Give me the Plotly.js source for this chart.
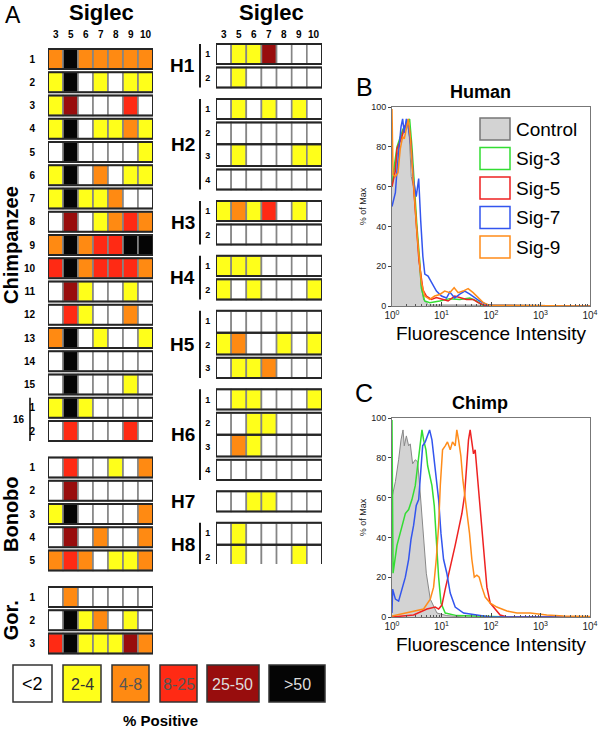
<!DOCTYPE html>
<html><head><meta charset="utf-8">
<script src="https://cdn.plot.ly/plotly-3.0.1.min.js"></script>
<style>html,body{margin:0;padding:0;background:#fff}#plot{width:600px;height:730px}</style>
</head><body><div id="plot"></div>
<script>
// ---------- DATA ----------
const siglecs = ['3','5','6','7','8','9','10'];
const levelLabels = ['<2','2-4','4-8','8-25','25-50','>50'];
// level codes: 0 <2, 1 2-4, 2 4-8, 3 8-25, 4 25-50, 5 >50
const chimpLabels = ['1','2','3','4','5','6','7','8','9','10','11','12','13','14','15','1','2'];
const chimpValues = [
 [2,5,2,2,2,2,2],[1,5,0,1,0,1,1],[1,4,0,0,0,3,0],[1,5,0,1,1,2,1],[0,5,0,0,0,0,1],
 [1,5,0,2,0,1,1],[1,5,1,1,2,0,0],[0,4,0,1,2,3,2],[2,5,2,3,3,5,5],[3,5,2,3,3,3,2],
 [0,4,1,0,0,1,0],[0,3,1,0,0,2,0],[2,5,0,1,0,0,1],[0,5,0,0,0,0,0],[0,5,0,0,0,1,0],
 [1,5,1,0,0,0,0],[0,3,0,0,0,3,0]];
const bonoboLabels = ['1','2','3','4','5'];
const bonoboValues = [[0,3,0,0,1,0,2],[0,4,0,0,0,0,0],[1,5,0,0,0,0,2],[0,4,0,2,0,0,2],[2,3,2,0,1,1,2]];
const gorLabels = ['1','2','3'];
const gorValues = [[0,2,0,0,0,0,0],[0,5,1,2,0,1,0],[3,5,1,1,1,4,2]];
const speciesNames = ['Chimpanzee','Bonobo','Gor.'];
const humanGroups = ['H1','H2','H3','H4','H5','H6','H7','H8'];
const humanSubLabels = [['1','2'],['1','2','3','4'],['1','2'],['1','2'],['1','2','3'],['1','2','3','4'],[''],['1','2']];
const humanValues = [
 [0,1,1,4,0,0,0],[0,1,0,0,0,0,0],
 [0,1,0,1,0,1,0],[0,0,0,0,0,0,0],[0,1,0,0,0,1,1],[0,0,0,0,0,0,0],
 [1,2,1,3,0,1,0],[0,0,0,0,0,0,0],
 [1,1,1,0,0,0,0],[1,0,1,0,0,0,1],
 [0,0,0,0,0,0,0],[1,2,0,0,1,0,1],[0,1,1,2,0,0,0],
 [0,1,1,0,0,0,1],[0,0,1,1,0,0,0],[0,2,1,0,0,0,0],[0,0,0,0,0,0,0],
 [0,0,1,1,0,0,0],
 [0,1,0,0,0,0,0],[0,1,0,0,0,1,0]];

const seriesNames = ['Control','Sig-3','Sig-5','Sig-7','Sig-9'];
// Panel B (Human)
const bControlX = [1.0,1.08,1.26,1.47,1.72,2.01,2.24,2.45,2.73,3.09,3.46,3.84,4.35,5.49,20,100,10000];
const bControlY = [60,67,75,85,87,94,85,65,60,43,25,11,3,0.5,0.5,0.3,0];
const bSig3X = [1.0,1.08,1.26,1.47,1.67,1.86,2.07,2.27,2.53,2.82,3.19,3.62,3.92,4.58,5.78,9.22,14.7,23.4,37.3,50.9,69.5,10000];
const bSig3Y = [60,68,80,85,89,90,92,94,80,60,40,23,9,2.5,1.7,2.5,3.7,3.3,4,2.5,0.3,0];
const bSig5X = [1.0,1.17,1.26,1.43,1.59,1.77,2.01,2.20,2.42,2.73,3.09,3.50,4.24,4.95,6.25,7.89,10.8,13.6,18.5,23.4,31.9,43.6,55.0,75.0,10000];
const bSig5Y = [60,68,79,82,85,90,92,90,82,60,40,23,8,5,3.3,4.2,3.3,2.5,5,4.2,3.3,3.3,1.7,0.3,0];
const bSig7X = [1.0,1.17,1.26,1.36,1.52,1.64,1.77,1.95,2.17,2.42,2.73,3.09,3.46,3.8,4.2,4.6,5.35,6.25,7.9,10,12.6,14.7,18.5,23.4,29.5,37.3,47,59,81,111,10000];
const bSig7Y = [50,57,68,77,90,94,87,94,89,80,63,55,64,43,25,16,15,12,7.5,5,4,7,4,6,7.5,6,4,2.5,0.8,0.3,0];
const bSig9X = [1.0,1.05,1.17,1.32,1.47,1.64,1.77,1.95,2.14,2.34,2.53,2.82,3.19,3.62,3.92,4.58,5.78,7.30,9.22,11.6,14.7,18.0,21.7,27.3,34.5,43.6,55,69.5,94.7,500,10000];
const bSig9Y = [99,66,65,67,79,85,84,90,94,85,72,55,37,21,12,5,3.3,5,5.8,7.5,6.7,9.2,6.7,7.5,8.7,6.7,4.2,1.7,0.3,0.3,0];
// Panel C (Chimp)
const cControlX = [1.0,1.17,1.36,1.52,1.67,1.77,1.95,2.17,2.34,2.61,2.95,3.30,3.62,4.03,4.35,4.93,5.93,8.09,12.8,27.9,10000];
const cControlY = [60,68,79,89,94,86,91,86,87,77,79,78,66,51,42,22,9,2,0.7,0,0];
const cSig3X = [1.0,1.05,1.26,1.47,1.86,2.17,2.53,2.95,3.30,3.62,4.03,4.35,4.85,5.25,5.75,6.41,7.14,7.84,8.75,9.75,11.9,20.4,60.6,284,10000];
const cSig3Y = [99,22,36,42,52,54,59,66,76,86,94,89,84,76,72,66,56,39,20,7,2,0.7,0.3,0,0];
const cSig5X = [1.0,2.73,5.08,7.48,8.75,10.2,11.9,13.9,16.2,18.9,22.1,25.8,29.2,32.5,35.1,37.9,41.0,44.3,47.9,51.8,57.8,65.5,73.0,82.6,96.5,121,153,210,10000];
const cSig5Y = [0,1,4,5,4,6,14,22,29,36,44,52,61,76,89,94,88,82,84,74,59,42,27,15,7,4,1,0,0];
const cSig7X = [1.0,1.03,1.17,1.36,1.59,1.86,2.17,2.42,2.73,3.09,3.46,3.74,4.16,4.70,5.25,5.75,6.41,6.92,7.84,8.75,9.75,11.0,12.8,15.0,18.9,27.9,51.8,96.5,10000];
const cSig7Y = [2,14,9,8,14,20,29,39,46,56,59,72,86,88,92,94,89,82,72,59,42,29,22,12,5,2,1,0,0];
const cSig9X = [1.0,2.73,4.35,5.93,6.92,7.84,8.75,9.45,10.5,11.9,13.2,15.0,16.7,18.9,20.4,22.1,24.6,27.0,30.1,33.6,36.8,41.0,45.9,51.8,57.8,65.5,76.4,96.5,131,210,335,620,1340,2910,10000];
const cSig9Y = [0.5,3,4,9,15,29,46,66,84,86,88,84,88,86,94,89,81,69,59,51,42,29,20,21,20,15,10,7,5,3,2,2,1,0.5,0.3];

// ---------- STYLE / LAYOUT ----------
const FONT = 'Liberation Sans, Arial, Helvetica, sans-serif';
const levelColors = ['#ffffff','#ffff1a','#ff8a12','#ff2a14','#980d0d','#050505'];
const levelTextColors = ['#000000','#333333','#555555','#555555','#dddddd','#dddddd'];
const seriesColors = ['#888888','#33dd33','#ee2222','#3355ee','#ff8c1a'];
const W = 600, H = 730;
const px = v => v / W, py = v => 1 - v / H;

const A = {top: 45, bot: 656, y0: 59, step: 23.25, half: 0.43, gap: 0.57};
const HM = {top: 43, bot: 564, y0: 54, step: 23.5, half: 0.43, gap: 0.34};
const humanJoin = [3, 10, 14, 18]; // row index joined with the next one

const traces = [];
const shapes = [];
const annotations = [];
function ann(o) {
  annotations.push(Object.assign({showarrow: false, xanchor: 'center', yanchor: 'middle', xref: 'paper', yref: 'paper'}, o));
}

function addCells(values, pos, xa, ya, joins) {
  const cx = [], cb = [], ch = [], cc = [];
  const ox = [], ob = [], oh = [];
  values.forEach((row, r) => {
    let top = pos[r] - A.half, bot = pos[r] + A.half;
    if (joins.includes(r)) bot = (pos[r] + pos[r + 1]) / 2;
    if (joins.includes(r - 1)) top = (pos[r - 1] + pos[r]) / 2;
    row.forEach((v, c) => { cx.push(c); cb.push(top); ch.push(bot - top); cc.push(levelColors[v]); });
    ox.push((siglecs.length - 1) / 2); ob.push(top); oh.push(bot - top);
  });
  traces.push({type: 'bar', x: cx, y: ch, base: cb, width: 1, xaxis: xa, yaxis: ya,
    marker: {color: cc, line: {color: '#858585', width: 1.6}}, hoverinfo: 'skip', showlegend: false});
  traces.push({type: 'bar', x: ox, y: oh, base: ob, width: siglecs.length, xaxis: xa, yaxis: ya,
    marker: {color: 'rgba(0,0,0,0)', line: {color: '#262626', width: 2}}, hoverinfo: 'skip', showlegend: false});
  // column headers (Siglec numbers)
  siglecs.forEach((s, c) => ann({text: '<b>' + s + '</b>', x: c, xref: xa, y: py(34), font: {family: FONT, size: 10, color: '#000'}}));
}

// chimp / bonobo / gorilla positions
const apeSets = [[chimpLabels, chimpValues], [bonoboLabels, bonoboValues], [gorLabels, gorValues]];
const apePos = [], apeLabels = [], apeVals = [];
let idx = 0;
apeSets.forEach((s, g) => {
  const start = idx + g * A.gap;
  const ps = s[1].map((_, i) => start + i);
  ps.forEach((p, i) => { apePos.push(p); apeLabels.push(s[0][i]); apeVals.push(s[1][i]); });
  ann({text: '<b>' + speciesNames[g] + '</b>', x: px(11), y: (ps[0] + ps[ps.length - 1]) / 2, yref: 'y',
    textangle: -90, font: {family: FONT, size: 20, color: '#000'}});
  idx += s[1].length;
});
addCells(apeVals, apePos, 'x', 'y', []);
// chimp 16 bracket
const p161 = apePos[15], p162 = apePos[16];
shapes.push({type: 'line', xref: 'paper', yref: 'y', x0: px(30), x1: px(30), y0: p161 - A.half, y1: p162 + A.half, line: {color: '#000', width: 1.5}});
ann({text: '<b>16</b>', x: px(27), y: (p161 + p162) / 2, yref: 'y', xanchor: 'right', font: {family: FONT, size: 10, color: '#000'}});

// human positions
const humPos = [], humLabels = [];
let hi = 0;
humanGroups.forEach((gname, g) => {
  const start = hi + g * HM.gap;
  const ps = humanSubLabels[g].map((_, i) => start + i);
  ps.forEach((p, i) => { humPos.push(p); humLabels.push(humanSubLabels[g][i]); });
  ann({text: '<b>' + gname + '</b>', x: px(197), y: (ps[0] + ps[ps.length - 1]) / 2, yref: 'y2',
    xanchor: 'right', font: {family: FONT, size: 19, color: '#000'}});
  if (ps.length > 1) shapes.push({type: 'line', xref: 'paper', yref: 'y2', x0: px(200), x1: px(200),
    y0: ps[0] - HM.half, y1: ps[ps.length - 1] + HM.half, line: {color: '#000', width: 1.8}});
  hi += ps.length;
});
addCells(humanValues, humPos, 'x2', 'y2', humanJoin);

// Siglec titles & A
ann({text: 'A', x: px(3), y: py(15), xanchor: 'left', font: {family: FONT, size: 23, color: '#000'}});
[[101, 'Siglec'], [271, 'Siglec']].forEach(t => ann({text: '<b>' + t[1] + '</b>', x: px(t[0]), y: py(13),
  font: {family: FONT, size: 22, color: '#000'}}));

// level legend
const legBoxes = [[13, 52], [63, 101], [112, 149], [160, 197], [207, 259], [269, 325]];
levelLabels.forEach((lab, i) => {
  const b = legBoxes[i];
  shapes.push({type: 'rect', xref: 'paper', yref: 'paper', x0: px(b[0]), x1: px(b[1]), y0: py(702), y1: py(665),
    fillcolor: levelColors[i], line: {color: '#333', width: 1.5}});
  ann({text: lab, x: px((b[0] + b[1]) / 2), y: py(684), font: {family: FONT, size: i === 0 ? 18 : 16, color: levelTextColors[i]}});
});
ann({text: '<b>% Positive</b>', x: px(160), y: py(720), font: {family: FONT, size: 15, color: '#000'}});

// histogram traces
const bSets = [[bControlX, bControlY], [bSig3X, bSig3Y], [bSig5X, bSig5Y], [bSig7X, bSig7Y], [bSig9X, bSig9Y]];
const cSets = [[cControlX, cControlY], [cSig3X, cSig3Y], [cSig5X, cSig5Y], [cSig7X, cSig7Y], [cSig9X, cSig9Y]];
[[bSets, 'x3', 'y3'], [cSets, 'x4', 'y4']].forEach(([sets, xa, ya]) => {
  sets.forEach((s, i) => {
    const t = {type: 'scatter', mode: 'lines', x: s[0], y: s[1], xaxis: xa, yaxis: ya, name: seriesNames[i],
      line: {color: seriesColors[i], width: i === 0 ? 1 : 1.5}, showlegend: false, hoverinfo: 'skip'};
    if (i === 0) { t.fill = 'tozeroy'; t.fillcolor = '#d3d3d3'; }
    traces.push(t);
  });
});

// legend for B
seriesNames.forEach((n, i) => {
  const yc = 129 + i * 29.5;
  shapes.push({type: 'rect', xref: 'paper', yref: 'paper', x0: px(480), x1: px(510), y0: py(yc + 11), y1: py(yc - 11),
    fillcolor: i === 0 ? '#d3d3d3' : 'rgba(0,0,0,0)', line: {color: i === 0 ? '#777' : seriesColors[i], width: 1.5}});
  ann({text: n, x: px(514), y: py(yc), xanchor: 'left', font: {family: FONT, size: 19, color: '#000'}});
});
[['B', 364, 87], ['C', 364, 393]].forEach(t => ann({text: t[0], x: px(t[1]), y: py(t[2]),
  font: {family: FONT, size: 25, color: '#000'}}));
[['Human', 480, 92], ['Chimp', 480, 403]].forEach(t => ann({text: '<b>' + t[0] + '</b>', x: px(t[1]), y: py(t[2]),
  font: {family: FONT, size: 18, color: '#000'}}));

function heatX(domain, yname) {
  return {domain: domain, anchor: yname, range: [-0.5, siglecs.length - 0.5], showticklabels: false, ticks: '',
    showgrid: false, zeroline: false, showline: false, fixedrange: true};
}
function heatY(G, domainTop, domainBot, vals, labels, xname, ticklen, fsize) {
  return {domain: [py(domainBot), py(domainTop)], anchor: xname,
    range: [(domainBot - G.y0) / G.step, (domainTop - G.y0) / G.step], tickvals: vals, ticktext: labels,
    ticks: 'outside', ticklen: ticklen, tickcolor: 'rgba(0,0,0,0)', showgrid: false, zeroline: false, showline: false,
    tickfont: {family: FONT, size: fsize, color: '#000', weight: 'bold'}, fixedrange: true};
}
const logTicks = [1, 10, 100, 1000, 10000];
const logText = ['10<sup>0</sup>', '10<sup>1</sup>', '10<sup>2</sup>', '10<sup>3</sup>', '10<sup>4</sup>'];
const minorVals = [];
[1, 10, 100, 1000].forEach(d => { for (let k = 2; k <= 9; k++) minorVals.push(d * k); });
function histX(yname) {
  return {domain: [px(392), px(590)], anchor: yname, type: 'log', range: [0, 4], tickvals: logTicks, ticktext: logText,
    ticks: 'inside', ticklen: 4, tickcolor: '#444', showline: true, mirror: true, linecolor: '#777', linewidth: 1,
    showgrid: false, zeroline: false, tickfont: {family: FONT, size: 10, color: '#222'},
    minor: {tickmode: 'array', tickvals: minorVals, ticks: 'inside', ticklen: 2, tickcolor: '#555', showgrid: false},
    title: {text: 'Fluorescence Intensity', font: {family: FONT, size: 19, color: '#000'}, standoff: 6}};
}
function histY(top, bot, xname) {
  return {domain: [py(bot), py(top)], anchor: xname, range: [0, 100], tickvals: [0, 20, 40, 60, 80, 100],
    ticks: 'outside', ticklen: 3, tickcolor: '#444', showline: true, mirror: true, linecolor: '#777', linewidth: 1,
    showgrid: false, zeroline: false, tickfont: {family: FONT, size: 9, color: '#222'},
    title: {text: '% of Max', font: {family: FONT, size: 9, color: '#222'}, standoff: 3}};
}

const layout = {
  width: W, height: H, margin: {l: 0, r: 0, t: 0, b: 0}, paper_bgcolor: '#fff', plot_bgcolor: 'rgba(0,0,0,0)',
  barmode: 'overlay', showlegend: false, font: {family: FONT},
  xaxis: heatX([px(48), px(153)], 'y'),
  yaxis: heatY(A, A.top, A.bot, apePos, apeLabels, 'x', 10, 10),
  xaxis2: heatX([px(216), px(322)], 'y2'),
  yaxis2: heatY(HM, HM.top, HM.bot, humPos, humLabels, 'x2', 3, 9),
  xaxis3: histX('y3'), yaxis3: histY(107, 306, 'x3'),
  xaxis4: histX('y4'), yaxis4: histY(418, 617, 'x4'),
  shapes: shapes, annotations: annotations
};
Plotly.newPlot('plot', traces, layout, {staticPlot: true, displayModeBar: false});
</script></body></html>
